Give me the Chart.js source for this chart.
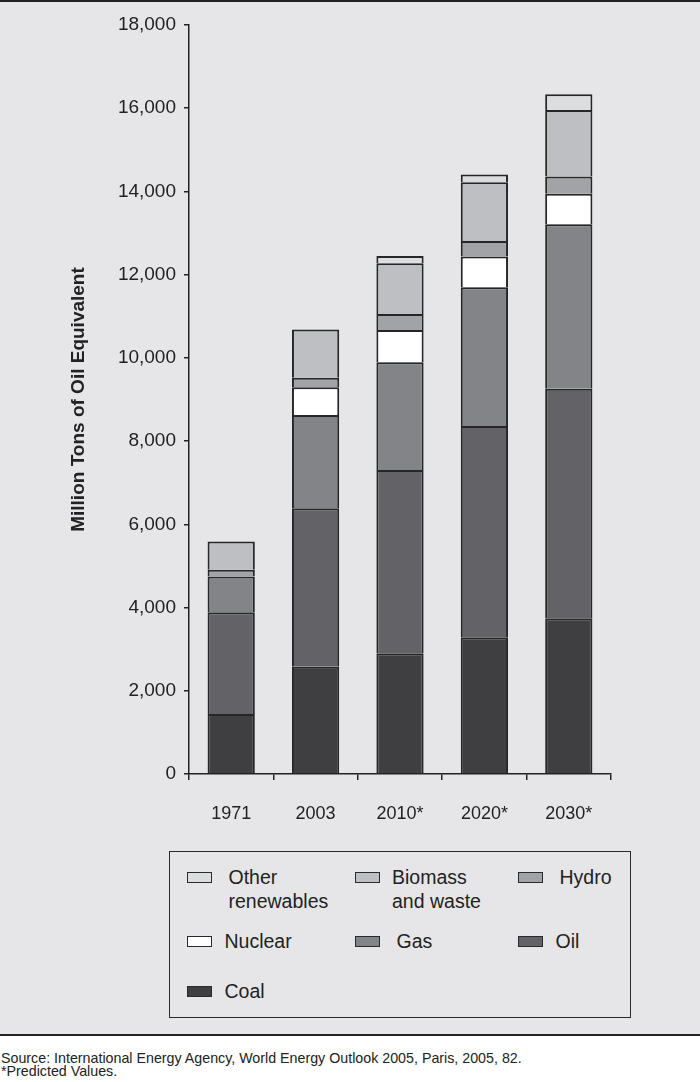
<!doctype html>
<html lang="en">
  <head>
    <meta charset="utf-8">
    <title>World Primary Energy Demand by Fuel</title>
    <script src="https://cdn.jsdelivr.net/npm/chart.js@4.4.1/dist/chart.umd.min.js"></script>
    <style>
      html, body {
        margin: 0;
        padding: 0;
        background: #fff;
      }
      body {
        width: 700px;
        height: 1082px;
        position: relative;
        overflow: hidden;
        font-family: "Liberation Sans", Arial, sans-serif;
        color: #222;
      }
      #panel {
        position: absolute;
        left: 0;
        top: 0;
        width: 700px;
        height: 1036px;
        background: #e6e6e8;
        border-top: 2px solid #222;
        border-bottom: 2px solid #222;
        box-sizing: border-box;
      }
      #chart {
        position: absolute;
        left: 0;
        top: 0;
      }
      #legend {
        position: absolute;
        left: 169px;
        top: 851px;
        width: 462px;
        height: 167px;
        border: 1.5px solid #2a2a2a;
        box-sizing: border-box;
      }
      .swatch {
        position: absolute;
        width: 23px;
        height: 9px;
        border: 1.5px solid #2a2a2a;
      }
      .label {
        position: absolute;
        font-size: 19.5px;
        line-height: 23.5px;
        white-space: nowrap;
      }
      #source {
        position: absolute;
        left: 1px;
        top: 1050.5px;
        font-family: "Liberation Sans", Arial, sans-serif;
        font-size: 15px;
        line-height: 13px;
        color: #222;
        white-space: nowrap;
        transform: scaleX(0.95);
        transform-origin: left top;
      }
    </style>
  </head>
  <body>
    <div id="panel"></div>
    <canvas id="chart" width="700" height="840"></canvas>
    <div id="legend"></div>
    <div id="source">Source: International Energy Agency, World Energy Outlook 2005, Paris, 2005, 82.<br>*Predicted Values.</div>

    <script>
      // values, million tons of oil equivalent
      const years = ["1971", "2003", "2010*", "2020*", "2030*"];
      const coal = [1440, 2580, 2900, 3285, 3740];
      const oil = [2445, 3805, 4405, 5080, 5520];
      const gas = [860, 2245, 2590, 3335, 3950];
      const nuclear = [null, 665, 775, 735, 735];
      const hydro = [165, 230, 385, 375, 415];
      const biomass = [680, 1160, 1220, 1410, 1600];
      const other = [null, null, 175, 190, 375];

      const yTicks = [0, 2000, 4000, 6000, 8000, 10000, 12000, 14000, 16000, 18000];

      const series = [
        { label: "Coal", data: coal, color: "#3f3f41" },
        { label: "Oil", data: oil, color: "#636266" },
        { label: "Gas", data: gas, color: "#838487" },
        { label: "Nuclear", data: nuclear, color: "#ffffff" },
        { label: "Hydro", data: hydro, color: "#a2a3a6" },
        { label: "Biomass and waste", data: biomass, color: "#bebfc2" },
        { label: "Other renewables", data: other, color: "#dcdddf" }
      ];

      const ink = "#222";

      new Chart(document.getElementById("chart").getContext("2d"), {
        type: "bar",
        data: {
          labels: years,
          datasets: series.map(s => ({
            label: s.label,
            data: s.data,
            backgroundColor: s.color,
            borderColor: "#262626",
            borderWidth: 2,
            borderSkipped: "start",
            categoryPercentage: 1,
            barPercentage: 0.56
          }))
        },
        options: {
          responsive: false,
          animation: false,
          devicePixelRatio: 1,
          layout: { padding: { left: 63, right: 89, top: 25, bottom: 0 } },
          plugins: {
            legend: { display: false },
            tooltip: { enabled: false }
          },
          scales: {
            x: {
              stacked: true,
              afterFit: s => { s.height = 66; },
              grid: { drawOnChartArea: false, drawTicks: true, tickLength: 6, color: ink, lineWidth: 1.5 },
              border: { display: true, color: ink, width: 1.5 },
              ticks: { color: ink, padding: 23, font: { family: "Liberation Sans", size: 18 } }
            },
            y: {
              stacked: true,
              min: 0,
              max: 18000,
              afterFit: s => { s.width = 126; },
              afterBuildTicks: s => { s.ticks = yTicks.map(v => ({ value: v })); },
              grid: { drawOnChartArea: false, drawTicks: true, tickLength: 5, color: ink, lineWidth: 1.5 },
              border: { display: true, color: ink, width: 1.5 },
              ticks: {
                color: ink,
                padding: 8,
                font: { family: "Liberation Sans", size: 19 },
                callback: v => v.toLocaleString("en-US")
              },
              title: {
                display: true,
                text: "Million Tons of Oil Equivalent",
                color: ink,
                font: { family: "Liberation Sans", size: 19, weight: "bold" },
                padding: { top: 4, bottom: 4 }
              }
            }
          }
        }
      });

      // legend laid out like the printed key: three columns, top to bottom
      const legendSpots = [
        { label: "Other renewables", lines: ["Other", "renewables"], sx: 16.5, sy: 19.8, tx: 58.5, ty: 14 },
        { label: "Biomass and waste", lines: ["Biomass", "and waste"], sx: 184.5, sy: 19.8, tx: 222, ty: 14 },
        { label: "Hydro", lines: ["Hydro"], sx: 347.5, sy: 19.8, tx: 389.5, ty: 14 },
        { label: "Nuclear", lines: ["Nuclear"], sx: 16.5, sy: 83.5, tx: 54.5, ty: 78.3 },
        { label: "Gas", lines: ["Gas"], sx: 184.5, sy: 83.5, tx: 226.5, ty: 78.3 },
        { label: "Oil", lines: ["Oil"], sx: 347.5, sy: 83.5, tx: 385.5, ty: 78.3 },
        { label: "Coal", lines: ["Coal"], sx: 16.5, sy: 133.5, tx: 54.5, ty: 128.3 }
      ];

      const legend = document.getElementById("legend");
      legendSpots.forEach(spot => {
        const s = series.find(x => x.label === spot.label);
        const sw = document.createElement("div");
        sw.className = "swatch";
        sw.style.left = spot.sx + "px";
        sw.style.top = spot.sy + "px";
        sw.style.background = s.color;
        legend.appendChild(sw);
        const tx = document.createElement("div");
        tx.className = "label";
        tx.style.left = spot.tx + "px";
        tx.style.top = spot.ty + "px";
        tx.innerHTML = spot.lines.join("<br>");
        legend.appendChild(tx);
      });
    </script>
  </body>
</html>
